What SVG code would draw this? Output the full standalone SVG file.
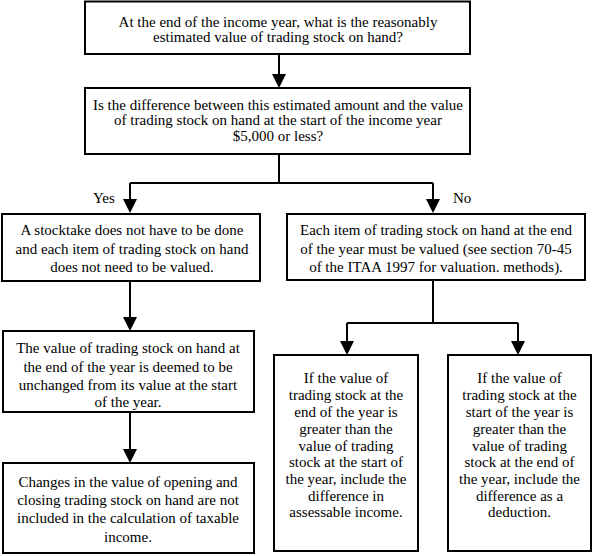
<svg xmlns="http://www.w3.org/2000/svg" width="593" height="556" viewBox="0 0 593 556">
<rect width="593" height="556" fill="#fff"/>
<g id="connectors">
<g fill="none" stroke="#000" stroke-width="2">
<path d="M279,54 V75"/>
<path d="M279,154 V183 M130,183 H433 M130,183 V200 M433,183 V200"/>
<path d="M130,281 V318"/>
<path d="M130,412 V450"/>
<path d="M433,280 V323 M347,323 H518 M347,323 V342 M518,323 V342"/>
</g>
<g fill="#000">
<path d="M272,74 L286,74 L279,88 Z"/>
<path d="M123,199 L137,199 L130,213 Z M426,199 L440,199 L433,213 Z"/>
<path d="M123,317 L137,317 L130,331 Z"/>
<path d="M123,449 L137,449 L130,463 Z"/>
<path d="M340,341 L354,341 L347,355 Z M511,341 L525,341 L518,355 Z"/>
</g>
<text font-family="Liberation Serif" font-size="15" x="93" y="203">Yes</text>
<text font-family="Liberation Serif" font-size="15" x="453" y="203">No</text>
</g>
<g id="n1">
<rect fill="#fff" stroke="#000" stroke-width="2" x="85" y="1.5" width="385" height="52.5"/>
<text font-family="Liberation Serif" font-size="15" text-anchor="middle" x="278" y="27">At the end of the income year, what is the reasonably</text>
<text font-family="Liberation Serif" font-size="15" text-anchor="middle" x="278" y="42">estimated value of trading stock on hand?</text>
</g>
<g id="n2">
<rect fill="#fff" stroke="#000" stroke-width="2" x="85" y="88" width="385" height="66"/>
<text font-family="Liberation Serif" font-size="15" text-anchor="middle" x="278" y="109.5">Is the difference between this estimated amount and the value</text>
<text font-family="Liberation Serif" font-size="15" text-anchor="middle" x="278" y="125">of trading stock on hand at the start of the income year</text>
<text font-family="Liberation Serif" font-size="15" text-anchor="middle" x="278" y="140.5">$5,000 or less?</text>
</g>
<g id="n3">
<rect fill="#fff" stroke="#000" stroke-width="2" x="2" y="214" width="258" height="67"/>
<text font-family="Liberation Serif" font-size="15" text-anchor="middle" x="132" y="235">A stocktake does not have to be done</text>
<text font-family="Liberation Serif" font-size="15" text-anchor="middle" x="132" y="254">and each item of trading stock on hand</text>
<text font-family="Liberation Serif" font-size="15" text-anchor="middle" x="132" y="272">does not need to be valued.</text>
</g>
<g id="n4">
<rect fill="#fff" stroke="#000" stroke-width="2" x="287" y="214" width="298" height="66"/>
<text font-family="Liberation Serif" font-size="15" text-anchor="middle" x="436" y="235">Each item of trading stock on hand at the end</text>
<text font-family="Liberation Serif" font-size="15" text-anchor="middle" x="436" y="254">of the year must be valued (see section 70-45</text>
<text font-family="Liberation Serif" font-size="15" text-anchor="middle" x="436" y="272">of the ITAA 1997 for valuation. methods).</text>
</g>
<g id="n5">
<rect fill="#fff" stroke="#000" stroke-width="2" x="3" y="331" width="251" height="81"/>
<text font-family="Liberation Serif" font-size="15" text-anchor="middle" x="128" y="353">The value of trading stock on hand at</text>
<text font-family="Liberation Serif" font-size="15" text-anchor="middle" x="128" y="372">the end of the year is deemed to be</text>
<text font-family="Liberation Serif" font-size="15" text-anchor="middle" x="128" y="390">unchanged from its value at the start</text>
<text font-family="Liberation Serif" font-size="15" text-anchor="middle" x="128" y="407">of the year.</text>
</g>
<g id="n6">
<rect fill="#fff" stroke="#000" stroke-width="2" x="3" y="463" width="251" height="90"/>
<text font-family="Liberation Serif" font-size="15" text-anchor="middle" x="128" y="487">Changes in the value of opening and</text>
<text font-family="Liberation Serif" font-size="15" text-anchor="middle" x="128" y="505">closing trading stock on hand are not</text>
<text font-family="Liberation Serif" font-size="15" text-anchor="middle" x="128" y="523">included in the calculation of taxable</text>
<text font-family="Liberation Serif" font-size="15" text-anchor="middle" x="128" y="542">income.</text>
</g>
<g id="n7">
<rect fill="#fff" stroke="#000" stroke-width="2" x="274" y="355" width="144" height="196"/>
<text font-family="Liberation Serif" font-size="15" text-anchor="middle" x="346" y="383">If the value of</text>
<text font-family="Liberation Serif" font-size="15" text-anchor="middle" x="346" y="400">trading stock at the</text>
<text font-family="Liberation Serif" font-size="15" text-anchor="middle" x="346" y="417">end of the year is</text>
<text font-family="Liberation Serif" font-size="15" text-anchor="middle" x="346" y="434">greater than the</text>
<text font-family="Liberation Serif" font-size="15" text-anchor="middle" x="346" y="451">value of trading</text>
<text font-family="Liberation Serif" font-size="15" text-anchor="middle" x="346" y="467">stock at the start of</text>
<text font-family="Liberation Serif" font-size="15" text-anchor="middle" x="346" y="484">the year, include the</text>
<text font-family="Liberation Serif" font-size="15" text-anchor="middle" x="346" y="501">difference in</text>
<text font-family="Liberation Serif" font-size="15" text-anchor="middle" x="346" y="517">assessable income.</text>
</g>
<g id="n8">
<rect fill="#fff" stroke="#000" stroke-width="2" x="448" y="355" width="143" height="196"/>
<text font-family="Liberation Serif" font-size="15" text-anchor="middle" x="519.5" y="383">If the value of</text>
<text font-family="Liberation Serif" font-size="15" text-anchor="middle" x="519.5" y="400">trading stock at the</text>
<text font-family="Liberation Serif" font-size="15" text-anchor="middle" x="519.5" y="417">start of the year is</text>
<text font-family="Liberation Serif" font-size="15" text-anchor="middle" x="519.5" y="434">greater than the</text>
<text font-family="Liberation Serif" font-size="15" text-anchor="middle" x="519.5" y="451">value of trading</text>
<text font-family="Liberation Serif" font-size="15" text-anchor="middle" x="519.5" y="467">stock at the end of</text>
<text font-family="Liberation Serif" font-size="15" text-anchor="middle" x="519.5" y="484">the year, include the</text>
<text font-family="Liberation Serif" font-size="15" text-anchor="middle" x="519.5" y="501">difference as a</text>
<text font-family="Liberation Serif" font-size="15" text-anchor="middle" x="519.5" y="517">deduction.</text>
</g>
</svg>
